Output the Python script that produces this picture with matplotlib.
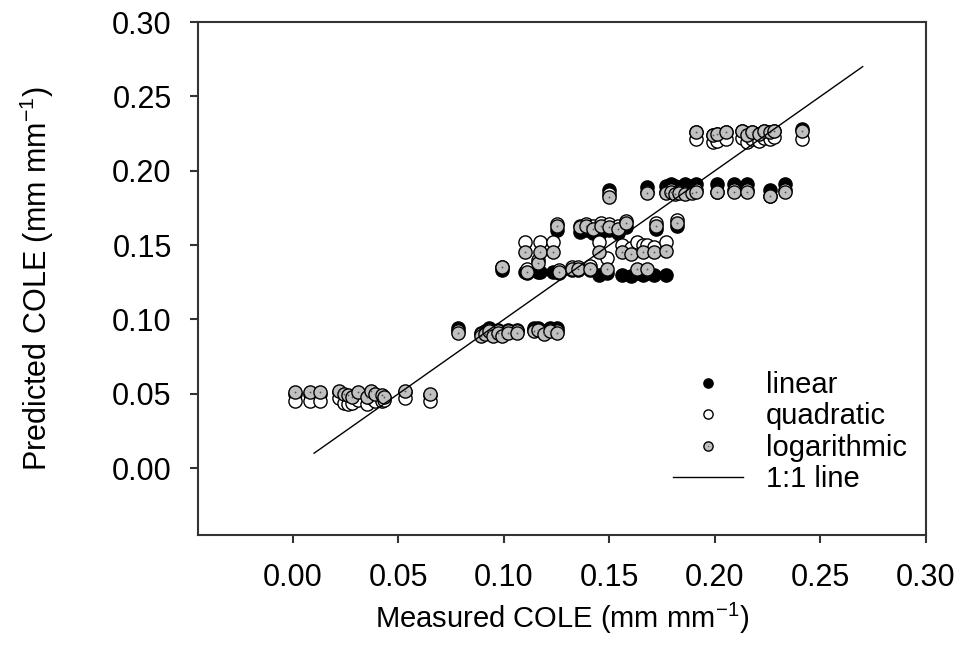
import matplotlib
matplotlib.use('Agg')
import matplotlib.pyplot as plt
from matplotlib.legend_handler import HandlerTuple
import numpy as np

plt.rcParams['font.family'] = ['Liberation Sans', 'DejaVu Sans']

# Measured COLE (shared by all three models)
measured = [
    # low group
    0.001, 0.008, 0.013, 0.022, 0.024, 0.026, 0.028, 0.031, 0.035, 0.037,
    0.039, 0.042, 0.043, 0.053, 0.065,
    # ~0.09 group
    0.078, 0.089, 0.091, 0.093, 0.095, 0.097, 0.099, 0.102, 0.106, 0.114,
    0.116, 0.119, 0.122, 0.125,
    # middle group
    0.099, 0.110, 0.111, 0.116, 0.117, 0.123, 0.126, 0.125, 0.132, 0.135,
    0.136, 0.139, 0.141, 0.142, 0.145, 0.146, 0.149, 0.150, 0.154, 0.156,
    0.158, 0.160, 0.163, 0.166, 0.168, 0.171, 0.172, 0.177, 0.182,
    # upper group
    0.150, 0.168, 0.177, 0.179, 0.181, 0.183, 0.186, 0.189, 0.191, 0.201,
    0.209, 0.215, 0.226, 0.233,
    # top row
    0.191, 0.199, 0.201, 0.205, 0.213, 0.215, 0.2175, 0.221, 0.223, 0.226,
    0.228, 0.241,
]

pred_linear = [
    0.050, 0.050, 0.050, 0.051, 0.049, 0.048, 0.047, 0.050, 0.047, 0.051,
    0.049, 0.048, 0.047, 0.051, 0.049,
    0.094, 0.091, 0.092, 0.094, 0.092, 0.093, 0.091, 0.093, 0.093, 0.094,
    0.094, 0.092, 0.094, 0.094,
    0.133, 0.132, 0.131, 0.132, 0.132, 0.132, 0.131, 0.160, 0.133, 0.133,
    0.159, 0.160, 0.133, 0.158, 0.130, 0.159, 0.131, 0.160, 0.158, 0.130,
    0.162, 0.129, 0.131, 0.130, 0.131, 0.130, 0.161, 0.130, 0.163,
    0.187, 0.189, 0.190, 0.191, 0.190, 0.189, 0.191, 0.190, 0.191, 0.191,
    0.191, 0.191, 0.187, 0.191,
    0.226, 0.224, 0.225, 0.226, 0.227, 0.224, 0.226, 0.225, 0.227, 0.226,
    0.227, 0.228,
]

pred_quadratic = [
    0.045, 0.045, 0.045, 0.047, 0.044, 0.043, 0.044, 0.046, 0.043, 0.047,
    0.045, 0.045, 0.046, 0.047, 0.045,
    0.092, 0.090, 0.091, 0.093, 0.090, 0.092, 0.090, 0.092, 0.092, 0.093,
    0.093, 0.091, 0.093, 0.092,
    0.135, 0.152, 0.134, 0.140, 0.152, 0.152, 0.133, 0.164, 0.135, 0.135,
    0.163, 0.164, 0.136, 0.163, 0.152, 0.165, 0.141, 0.164, 0.163, 0.150,
    0.166, 0.148, 0.152, 0.150, 0.150, 0.149, 0.165, 0.152, 0.167,
    0.184, 0.186, 0.186, 0.187, 0.185, 0.186, 0.185, 0.186, 0.187, 0.186,
    0.187, 0.187, 0.183, 0.187,
    0.221, 0.219, 0.220, 0.221, 0.222, 0.219, 0.221, 0.220, 0.222, 0.221,
    0.223, 0.221,
]

pred_log = [
    0.051, 0.051, 0.051, 0.052, 0.050, 0.049, 0.048, 0.051, 0.048, 0.052,
    0.050, 0.049, 0.048, 0.052, 0.050,
    0.091, 0.089, 0.090, 0.092, 0.089, 0.091, 0.089, 0.091, 0.091, 0.092,
    0.093, 0.090, 0.092, 0.091,
    0.135, 0.145, 0.132, 0.138, 0.145, 0.145, 0.132, 0.163, 0.134, 0.134,
    0.162, 0.163, 0.134, 0.161, 0.145, 0.163, 0.134, 0.162, 0.161, 0.145,
    0.165, 0.144, 0.134, 0.145, 0.134, 0.145, 0.163, 0.146, 0.165,
    0.182, 0.185, 0.185, 0.186, 0.184, 0.185, 0.184, 0.185, 0.186, 0.186,
    0.186, 0.186, 0.183, 0.186,
    0.226, 0.224, 0.225, 0.226, 0.227, 0.224, 0.226, 0.225, 0.227, 0.226,
    0.227, 0.227,
]

one_to_one = [0.01, 0.27]

fig = plt.figure(figsize=(9.58, 6.53), dpi=100)
ax = fig.add_axes([0.2067, 0.1807, 0.7599, 0.7856])

ms = 9.5
h_lin, = ax.plot(measured, pred_linear, 'o', ms=ms, mfc='black', mec='black',
                 mew=1.0)
h_quad, = ax.plot(measured, pred_quadratic, 'o', ms=ms, mfc='white', mec='black',
                  mew=1.0)
h_log, = ax.plot(measured, pred_log, 'o', ms=ms, mfc='#c0c0c0', mec='black',
                 mew=1.0)
h_dot, = ax.plot(measured, pred_log, 'o', ms=1.3, mfc='#555555', mec='none')
h_line, = ax.plot(one_to_one, one_to_one, '-', color='black', lw=1.0)

ax.set_xlim(-0.045, 0.30)
ax.set_ylim(-0.045, 0.30)
ax.set_xticks(np.arange(0, 0.31, 0.05))
ax.set_yticks(np.arange(0, 0.31, 0.05))
ax.xaxis.set_major_formatter(matplotlib.ticker.FormatStrFormatter('%.2f'))
ax.yaxis.set_major_formatter(matplotlib.ticker.FormatStrFormatter('%.2f'))
ax.tick_params(direction='out', length=6, width=1.5, labelsize=22,
               color='#333333')
ax.tick_params(axis='x', pad=14)
ax.tick_params(axis='y', pad=13)
for s in ax.spines.values():
    s.set_linewidth(1.5)
    s.set_color('#333333')

ax.set_xlabel('Measured COLE (mm mm$^{\\mathregular{-1}}$)', fontsize=21, labelpad=6)
ax.set_ylabel('Predicted COLE (mm mm$^{\\mathregular{-1}}$)', fontsize=22, labelpad=40)

ax.legend([h_lin, h_quad, (h_log, h_dot), h_line],
          ['linear', 'quadratic', 'logarithmic', '1:1 line'],
          handler_map={tuple: HandlerTuple(ndivide=1, pad=0)},
          loc='lower right', frameon=False, fontsize=21, handlelength=2.4,
          markerscale=0.7, labelspacing=0.12, handletextpad=0.8,
          bbox_to_anchor=(1.01, 0.03))

fig.savefig('out.png', dpi=100)
